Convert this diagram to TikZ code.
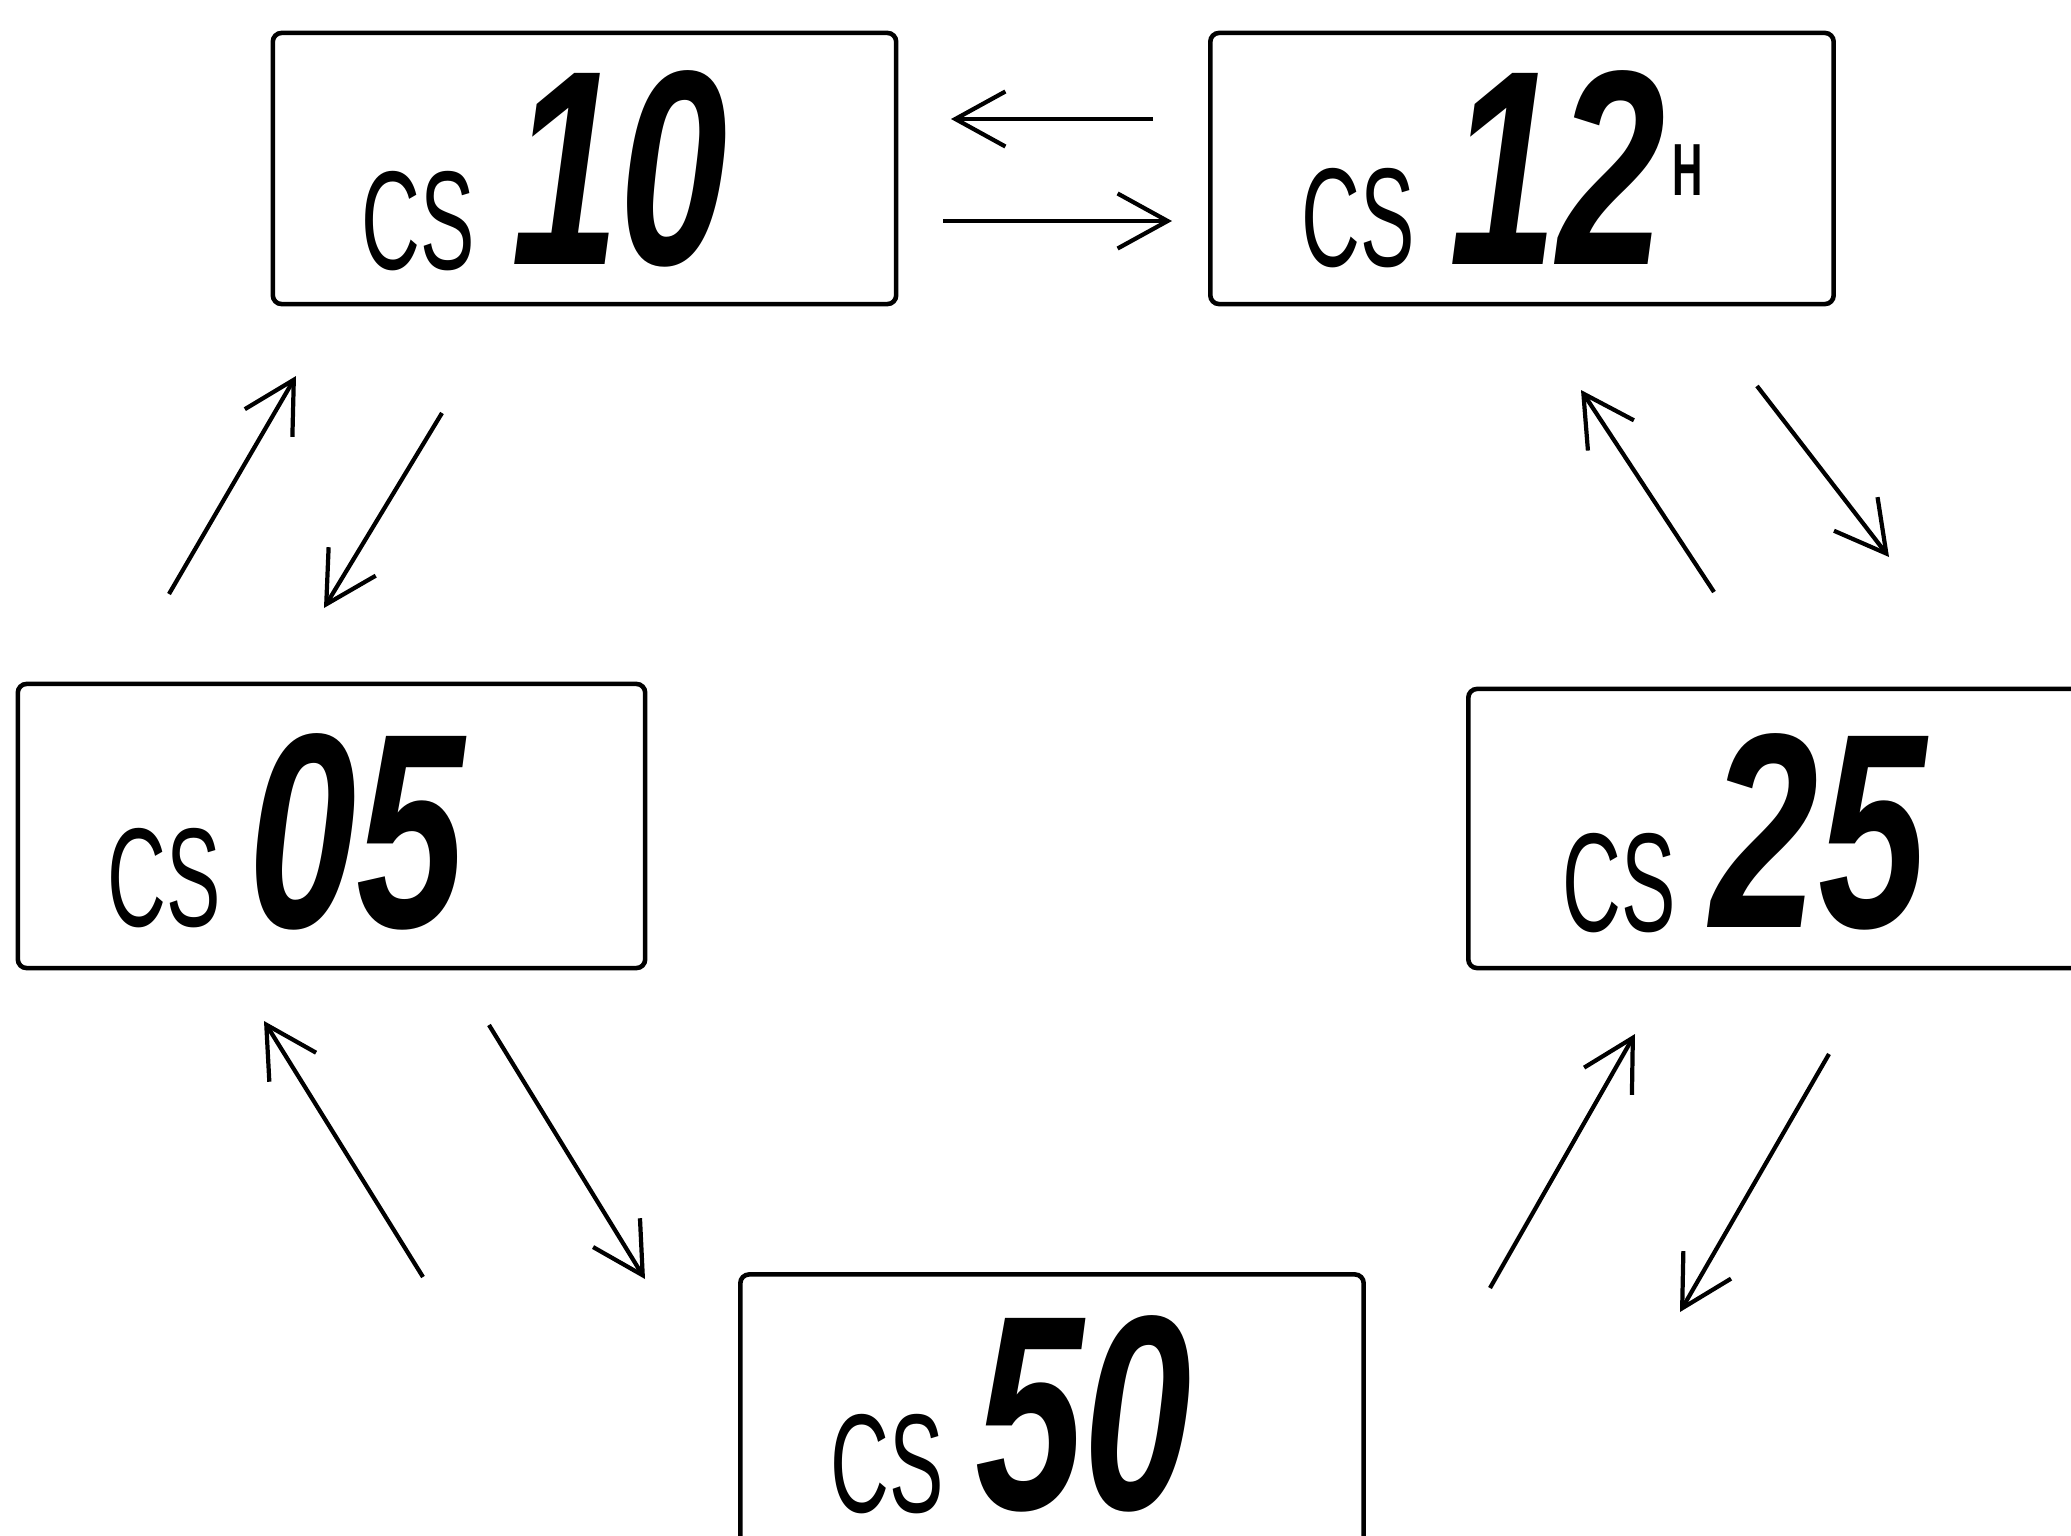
\documentclass[tikz,border=0pt]{standalone}
\usepackage{fontspec}
\setmainfont{Liberation Sans}
\usetikzlibrary{arrows.meta}
\tikzset{
lcd/.style={draw, line width=1.3pt, rounded corners=2.5pt, minimum width=6.23cm, minimum height=2.71cm, inner sep=0pt},
cstext/.style={inner sep=0pt, font=\fontsize{40}{40}\selectfont},
digits/.style={inner sep=0pt, font=\fontsize{79}{79}\selectfont\bfseries\itshape},
flow/.style={line width=1.2pt, -{Straight Barb[length=5mm, width=5.5mm]}}}
\newcommand{\lcdsmall}[1]{\scalebox{0.58}[1]{#1}}
\newcommand{\lcdbig}[1]{\scalebox{0.7}[1]{#1}}

\begin{document}
\begin{tikzpicture}[x=0.01cm, y=-0.01cm]

                % 1 unit = 1 pixel of the 2071x1536 page
                \useasboundingbox (0,0) rectangle (2071,1536);
                \clip (0,0) rectangle (2071,1536);

                \node[lcd] (ten) at (584.5,168.5) {};
                \node[lcd] (twelve) at (1522,168.5) {};
                \node[lcd, minimum width=6.27cm, minimum height=2.84cm] (five) at (331.5,826) {};
                \node[lcd, minimum height=2.79cm] (twentyfive) at (1780,828.5) {};
                \node[lcd] (fifty) at (1052,1410) {};

                \node[cstext] (ten cs) at (418,221) {\lcdsmall{CS}};
                \node[digits] (ten val) at (620,169) {\lcdbig{10}};

                \node[cstext] (twelve cs) at (1358,218) {\lcdsmall{CS}};
                \node[digits] (twelve val) at (1558,168) {\lcdbig{12}};
                \node[inner sep=0pt, font=\fontsize{21}{21}\selectfont\bfseries] (twelve unit) at (1688,170) {\scalebox{0.57}[1]{H}};

                \node[cstext] (five cs) at (164,878) {\lcdsmall{CS}};
                \node[digits] (five val) at (357,832) {\lcdbig{05}};

                \node[cstext] (twentyfive cs) at (1619,883) {\lcdsmall{CS}};
                \node[digits] (twentyfive val) at (1819,832) {\lcdbig{25}};

                \node[cstext] (fifty cs) at (887,1464) {\lcdsmall{CS}};
                \node[digits] (fifty val) at (1084,1414) {\lcdbig{50}};

                % free ends of the arrows
                \coordinate (p1) at (1153,119);  \coordinate (q1) at (951,119);
                \coordinate (p2) at (943,221);   \coordinate (q2) at (1172,221);
                \coordinate (p3) at (169,594);   \coordinate (q3) at (296,376);
                \coordinate (p4) at (442,413);   \coordinate (q4) at (324,608);
                \coordinate (p5) at (1714,592);  \coordinate (q5) at (1581,390);
                \coordinate (p6) at (1757,386);  \coordinate (q6) at (1889,557);
                \coordinate (p7) at (423,1277);  \coordinate (q7) at (264,1021);
                \coordinate (p8) at (489,1025);  \coordinate (q8) at (645,1279);
                \coordinate (p9) at (1490,1288); \coordinate (q9) at (1635,1034);
                \coordinate (p10) at (1829,1054); \coordinate (q10) at (1680,1312);

                \foreach \i in {1,...,10}{
                    \draw[flow] (p\i) -- (q\i);
                }

\end{tikzpicture}
\end{document}
